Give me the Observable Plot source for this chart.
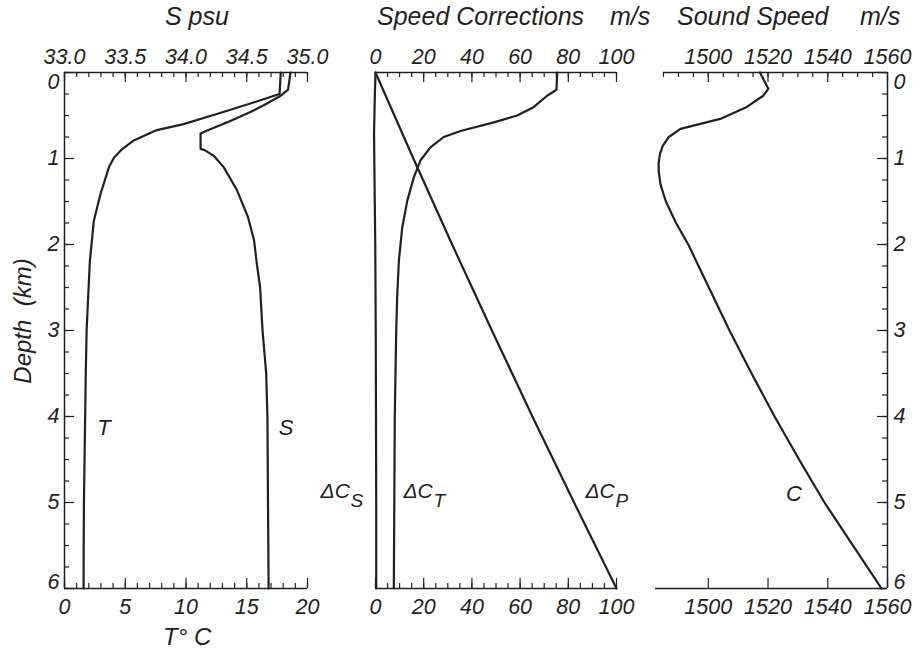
<!DOCTYPE html>
<html><head><meta charset="utf-8">
<script src="https://cdn.jsdelivr.net/npm/d3@7"></script>
<script src="https://cdn.jsdelivr.net/npm/@observablehq/plot@0.6"></script>
<style>
body{margin:0;background:#fff;}
#wrap{position:relative;width:921px;height:652px;overflow:hidden;font-family:'Liberation Sans',Arial,Helvetica,sans-serif;font-style:italic;color:#231f20;}
#wrap svg{position:absolute;left:0;top:0;}
.lab{position:absolute;white-space:pre;line-height:1;}
</style></head><body><div id="wrap"></div>
<script>
// ---------- data ----------
// Temperature profile (°C) vs depth (km)
const tDepth = [0, 0.25, 0.36, 0.48, 0.6, 0.67, 0.79, 0.89, 0.99, 1.1, 1.41, 1.72, 2.19, 2.6, 3.0, 3.5, 4.0, 4.5, 5.0, 5.5, 6.0];
const tValue = [17.8, 17.7, 15.3, 12.6, 9.8, 7.6, 5.7, 4.75, 4.07, 3.66, 2.97, 2.42, 2.09, 1.95, 1.82, 1.75, 1.7, 1.65, 1.6, 1.58, 1.57];
// Salinity profile (psu) vs depth (km)
const sDepth = [0, 0.2, 0.27, 0.38, 0.46, 0.56, 0.69, 0.71, 0.89, 0.9, 0.97, 1.1, 1.37, 1.68, 1.95, 2.19, 2.5, 3.0, 3.5, 4.0, 5.0, 6.0];
const sValue = [34.86, 34.84, 34.78, 34.64, 34.53, 34.37, 34.15, 34.12, 34.12, 34.15, 34.23, 34.31, 34.42, 34.51, 34.56, 34.58, 34.61, 34.63, 34.66, 34.67, 34.675, 34.68];
// Speed corrections (m/s)
const dcsDepth = [0, 0.3, 0.7, 1.0, 1.5, 2, 3, 4, 5, 6];
const dcsValue = [0, -0.3, -0.6, -0.5, -0.3, -0.1, 0.1, 0.2, 0.3, 0.3];
const dctDepth = [0, 0.2, 0.27, 0.4, 0.5, 0.58, 0.68, 0.75, 0.87, 1.02, 1.22, 1.49, 1.8, 2.19, 2.6, 3, 3.5, 4, 5, 6];
const dctValue = [75.4, 75.1, 71.2, 65.7, 58.8, 49.1, 35.3, 28.3, 22.8, 18.7, 15.9, 13.2, 11.1, 9.7, 9.0, 8.6, 8.3, 8.0, 7.8, 7.6];
const dcpDepth = [0, 1, 2, 3, 4, 5, 6];
const dcpValue = [0, 15.7, 31.8, 48.3, 65.1, 82.4, 100];
// Sound speed (m/s)
const cDepth = [0, 0.19, 0.27, 0.4, 0.54, 0.655, 0.75, 0.85, 0.95, 1.05, 1.15, 1.3, 1.5, 1.75, 2.0, 2.5, 3, 3.5, 4, 4.5, 5, 5.44, 6];
const cValue = [1517.3, 1520.1, 1518.4, 1512.9, 1504, 1490.7, 1486.8, 1484.8, 1483.8, 1483.4, 1483.4, 1484, 1485.8, 1489.2, 1493.3, 1500.2, 1507.1, 1514.5, 1522.2, 1530.4, 1538.9, 1547.3, 1558];

// tick labels
const depthTicks = [0, 1, 2, 3, 4, 5, 6];
const sTicks = [33.0, 33.5, 34.0, 34.5, 35.0];
const tTicks = [0, 5, 10, 15, 20];
const dcTicks = [0, 20, 40, 60, 80, 100];
const cTicks = [1500, 1520, 1540, 1560];
const dcLabels = [{main: "\u0394C", sub: "S", x: -22.8}, {main: "\u0394C", sub: "T", x: 11.6}, {main: "\u0394C", sub: "P", x: 87.1}];

// ---------- layout ----------
const W = 921, H = 652, TOP = 72, BOT = 588, PH = BOT - TOP;
const INK = "#231f20";
const FONT = "'Liberation Sans', Arial, Helvetica, sans-serif";
const rows = (ds, vs) => ds.map((d, i) => ({d, v: vs[i]}));
const minorDepth = d3.range(0, 25).map(i => i * 0.25);

function panel(x0, x1, xDomain, marks) {
  return Plot.plot({
    width: W, height: H,
    marginLeft: x0, marginRight: W - x1, marginTop: TOP, marginBottom: H - BOT,
    x: {domain: xDomain, axis: null, label: null},
    y: {domain: [0, 6], reverse: true, axis: null, label: null},
    style: `background:transparent;overflow:visible;font-family:${FONT};font-style:italic;font-size:21px;color:${INK};`,
    marks
  });
}
const line = (data) => Plot.line(data, {x: "v", y: "d", stroke: INK, strokeWidth: 2.2, strokeLinejoin: "round"});
const tTop = (v, len) => Plot.tickX(v, {x: d => d, insetBottom: PH - len, stroke: INK, strokeWidth: 1.2});
const tBot = (v, len) => Plot.tickX(v, {x: d => d, insetTop: PH - len, stroke: INK, strokeWidth: 1.2});
const tLeft = (v, len, pw) => Plot.tickY(v, {y: d => d, insetRight: pw - len, stroke: INK, strokeWidth: 1.2});
const tRight = (v, len, pw) => Plot.tickY(v, {y: d => d, insetLeft: pw - len, stroke: INK, strokeWidth: 1.2});
const labTop = (v, fmt) => Plot.text(v, {x: d => d, text: fmt || (d => String(d)), frameAnchor: "top", lineAnchor: "bottom", dy: -9, fontSize: 21.5, fill: INK});
const labBot = (v, fmt) => Plot.text(v, {x: d => d, text: fmt || (d => String(d)), frameAnchor: "bottom", lineAnchor: "top", dy: 10, fontSize: 21.5, fill: INK});
const rule = {stroke: INK, strokeWidth: 1.5};

const wrap = document.getElementById("wrap");

// Panel 1 (bottom axis: temperature)
const P1x0 = 64, P1x1 = 307, P1w = P1x1 - P1x0;
wrap.append(panel(P1x0, P1x1, [0, 20], [
  Plot.ruleY([6], rule),
  Plot.ruleX([0], rule),
  tBot(d3.range(0, 21), 5), tBot(tTicks, 10),
  tLeft(minorDepth, 5, P1w), tLeft(depthTicks, 10, P1w),
  labBot(tTicks),
  Plot.text(depthTicks.slice(1, 6), {y: d => d, text: d => String(d), frameAnchor: "left", textAnchor: "end", dx: -5, fontSize: 21.5, fill: INK}),
  Plot.text([0], {y: d => d, text: d => String(d), frameAnchor: "left", textAnchor: "end", lineAnchor: "top", dx: -5, dy: 1, fontSize: 21.5, fill: INK}),
  Plot.text([6], {y: d => d, text: d => String(d), frameAnchor: "left", textAnchor: "end", lineAnchor: "bottom", dx: -5, fontSize: 21.5, fill: INK}),
  line(rows(tDepth, tValue)),
  Plot.text(["T"], {x: 2.7, y: 4.22, text: d => d, textAnchor: "start", lineAnchor: "bottom", fontSize: 22, fill: INK})
]));
// Panel 1 (top axis: salinity)
wrap.append(panel(P1x0, P1x1, [33, 35], [
  Plot.ruleY([0], rule),
  tTop(d3.range(0, 21).map(i => 33 + i * 0.1), 5), tTop(sTicks, 10),
  labTop(sTicks, d => d.toFixed(1)),
  line(rows(sDepth, sValue)),
  Plot.text(["S"], {x: 34.764, y: 4.22, text: d => d, textAnchor: "start", lineAnchor: "bottom", fontSize: 22, fill: INK})
]));
// Panel 2 speed corrections
wrap.append(panel(375, 616, [0, 100], [
  Plot.ruleY([0], rule), Plot.ruleY([6], rule),
  tTop(d3.range(0, 21).map(i => i * 5), 5), tTop(dcTicks, 10),
  tBot(d3.range(0, 21).map(i => i * 5), 5), tBot(dcTicks, 10),
  labTop(dcTicks), labBot(dcTicks),
  line(rows(dcsDepth, dcsValue)),
  line(rows(dctDepth, dctValue)),
  line(rows(dcpDepth, dcpValue)),
  Plot.text(dcLabels, {x: "x", y: 4.95, text: "main", textAnchor: "start", lineAnchor: "bottom", fontSize: 21, fill: INK}),
  Plot.text(dcLabels, {x: "x", y: 4.95, text: "sub", textAnchor: "start", lineAnchor: "bottom", dx: 30, dy: 9, fontSize: 19, fill: INK})
]));
// Panel 3 sound speed
const P3x0 = 655, P3x1 = 887, P3w = P3x1 - P3x0;
wrap.append(panel(P3x0, P3x1, [1482.33, 1560], [
  Plot.ruleY([0], {...rule, x1: 1485, x2: 1560}), Plot.ruleY([6], rule), Plot.ruleX([1560], rule),
  tTop(d3.range(0, 15).map(i => 1485 + i * 5), 5), tTop(cTicks, 10),
  tBot(cTicks, 10),
  tRight(minorDepth, 5, P3w), tRight(depthTicks, 10, P3w),
  labTop(cTicks), labBot(cTicks),
  Plot.text(depthTicks.slice(1, 6), {y: d => d, text: d => String(d), frameAnchor: "right", textAnchor: "start", dx: 6, fontSize: 21.5, fill: INK}),
  Plot.text([0], {y: d => d, text: d => String(d), frameAnchor: "right", textAnchor: "start", lineAnchor: "top", dx: 6, dy: 1, fontSize: 21.5, fill: INK}),
  Plot.text([6], {y: d => d, text: d => String(d), frameAnchor: "right", textAnchor: "start", lineAnchor: "bottom", dx: 6, fontSize: 21.5, fill: INK}),
  line(rows(cDepth, cValue)),
  Plot.text(["C"], {x: 1526, y: 4.98, text: d => d, textAnchor: "start", lineAnchor: "bottom", fontSize: 22, fill: INK})
]));

// titles and axis names
function lab(text, left, top, size, extra) {
  const el = document.createElement("div");
  el.className = "lab";
  el.textContent = text;
  el.style.left = left + "px"; el.style.top = top + "px"; el.style.fontSize = size + "px";
  if (extra) Object.assign(el.style, extra);
  wrap.append(el);
}
lab("S psu", 165, 3.5, 25);
lab("Speed Corrections", 377, 3.5, 25);
lab("m/s", 610, 3.5, 25);
lab("Sound Speed", 677, 3.5, 25);
lab("m/s", 860, 3.5, 25);
lab("T\u00B0 C", 163, 625, 24);
lab("Depth  (km)", -57, 309, 24, {width: "160px", textAlign: "center", transform: "rotate(-90deg)", transformOrigin: "50% 50%"});
</script></body></html>
